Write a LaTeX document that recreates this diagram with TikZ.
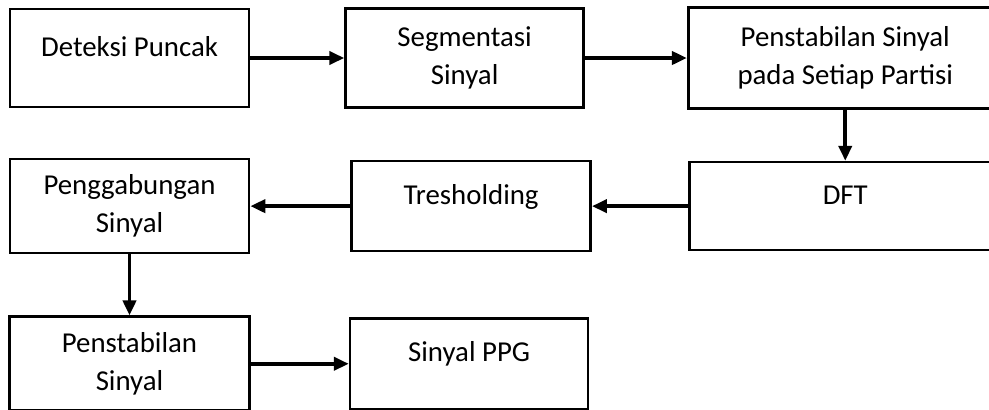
\documentclass[tikz,border=0pt]{standalone}
\usepackage{fontspec}
\setmainfont{Carlito}
\usepackage{tikz}
\usetikzlibrary{arrows.meta, positioning}

\begin{document}
\begin{tikzpicture}[
                blok/.style={draw, line width=0.75pt, align=center,
                             inner sep=0pt, font=\fontsize{8.2}{10.8}\selectfont},
                satu/.style={text height=0.19cm, text depth=0.23cm}]
                \useasboundingbox (0,0) rectangle (9.89,4.09);
                \node[blok, satu, minimum width=2.39cm, minimum height=0.98cm]
                      (deteksi) at (1.295,3.51) {Deteksi Puncak};
                \node[blok, minimum width=2.38cm, minimum height=0.99cm,
                      right=0.94cm of deteksi] (segmen) {Segmentasi\\Sinyal};
                \node[blok, minimum width=3.14cm, minimum height=1.01cm,
                      right=1.02cm of segmen] (partisi)
                      {Penstabilan Sinyal\\pada Setiap Partisi};
                \node[blok, satu, minimum width=3.12cm, minimum height=0.88cm,
                      below=0.51cm of partisi] (dft) {DFT};
                \node[blok, satu, minimum width=2.39cm, minimum height=0.90cm,
                      left=0.96cm of dft] (treshold) {Tresholding};
                \node[blok, minimum width=2.39cm, minimum height=0.94cm,
                      left=1.0cm of treshold] (gabung) {Penggabungan\\Sinyal};
                \node[blok, minimum width=2.40cm, minimum height=0.94cm,
                      below=0.61cm of gabung] (stabil) {Penstabilan\\Sinyal};
                \node[blok, satu, minimum width=2.38cm, minimum height=0.91cm,
                      right=0.98cm of stabil] (ppg) {Sinyal PPG};

                \draw[-{Triangle[length=0.15cm, width=0.13cm]}, line width=1.1pt] (deteksi) -- (segmen);
                \draw[-{Triangle[length=0.15cm, width=0.13cm]}, line width=1.1pt] (segmen) -- (partisi);
                \draw[-{Triangle[length=0.15cm, width=0.13cm]}, line width=1.1pt] (partisi) -- (dft);
                \draw[-{Triangle[length=0.15cm, width=0.13cm]}, line width=1.1pt] (dft) -- (treshold);
                \draw[-{Triangle[length=0.15cm, width=0.13cm]}, line width=1.1pt] (treshold) -- (gabung);
                \draw[-{Triangle[length=0.15cm, width=0.13cm]}, line width=1.1pt] (gabung) -- (stabil);
                \draw[-{Triangle[length=0.15cm, width=0.13cm]}, line width=1.1pt] (stabil) -- (ppg);
            \end{tikzpicture}
\end{document}
